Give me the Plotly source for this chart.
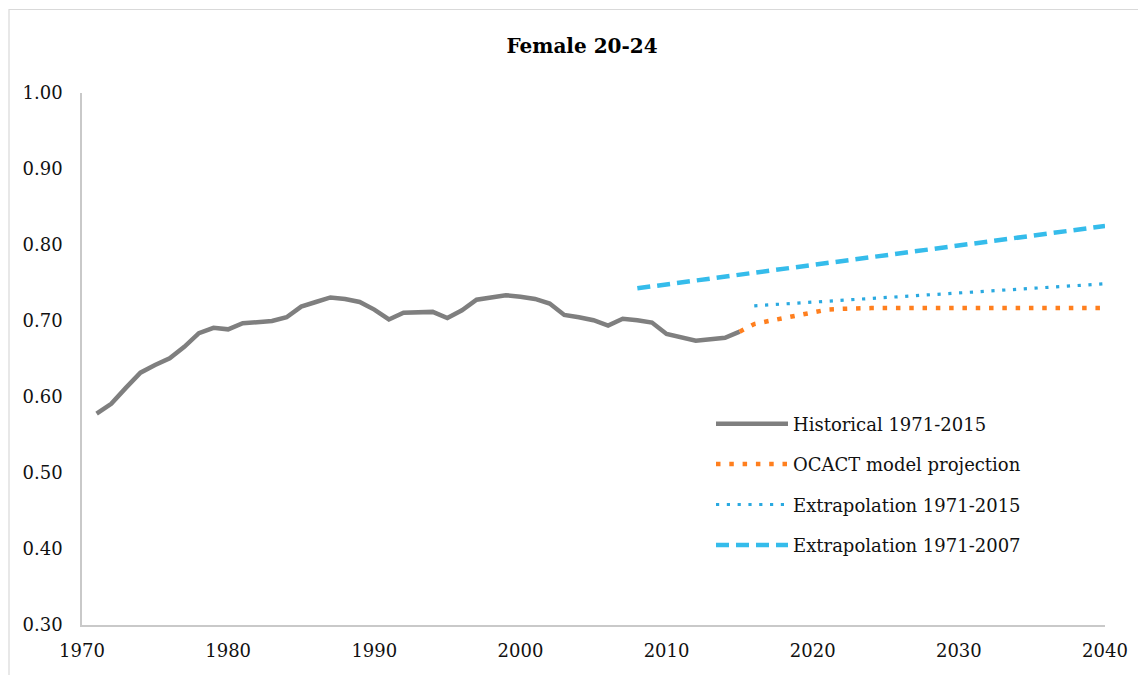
import plotly.graph_objects as go

# ---- Data ----
hist_years = list(range(1971, 2016))
hist_values = [0.578, 0.591, 0.612, 0.632, 0.642, 0.651, 0.666, 0.684, 0.691, 0.689,
               0.697, 0.699, 0.700, 0.705, 0.719, 0.725, 0.731, 0.729, 0.725, 0.715,
               0.702, 0.711, 0.711, 0.712, 0.704, 0.714, 0.728, 0.731, 0.734, 0.732,
               0.729, 0.723, 0.708, 0.705, 0.701, 0.694, 0.703, 0.701, 0.698, 0.683,
               0.678, 0.674, 0.676, 0.678, 0.686]

ocact_years = list(range(2015, 2041))
ocact_values = [0.686, 0.696, 0.700, 0.704, 0.708, 0.712, 0.715, 0.716, 0.717, 0.717,
                0.717, 0.717, 0.717, 0.717, 0.717, 0.717, 0.717, 0.717, 0.717, 0.717,
                0.717, 0.717, 0.717, 0.717, 0.717, 0.717]

ext15_years = [2016, 2020, 2025, 2030, 2035, 2040]
ext15_values = [0.720, 0.725, 0.731, 0.737, 0.743, 0.749]

ext07_years = [2008, 2015, 2020, 2025, 2030, 2035, 2040]
ext07_values = [0.743, 0.761, 0.774, 0.787, 0.799, 0.812, 0.825]

x_ticks = [1970, 1980, 1990, 2000, 2010, 2020, 2030, 2040]
y_ticks = [0.30, 0.40, 0.50, 0.60, 0.70, 0.80, 0.90, 1.00]

FONT = "DejaVu Serif"

fig = go.Figure()
fig.add_trace(go.Scatter(x=hist_years, y=hist_values, mode="lines",
                         name="Historical 1971-2015", legendgroup="a",
                         line=dict(color="#7F7F7F", width=4.5)))
fig.add_trace(go.Scatter(x=ocact_years, y=ocact_values, mode="lines",
                         name="OCACT model projection", legendgroup="b",
                         line=dict(color="#FF7F1E", width=4.5, dash="4.5px,8.8px")))
fig.add_trace(go.Scatter(x=ext15_years, y=ext15_values, mode="lines",
                         name="Extrapolation 1971-2015", legendgroup="c",
                         line=dict(color="#2AA9E0", width=3.2, dash="3.2px,7.6px")))
fig.add_trace(go.Scatter(x=ext07_years, y=ext07_values, mode="lines",
                         name="Extrapolation 1971-2007", legendgroup="d",
                         line=dict(color="#35BCEB", width=4.5, dash="13px,7px")))

OFF = 8  # page body margin
W, H = 1146 - OFF, 675 - OFF
# target page coordinates of the plot area
PL, PR, PT, PB = 82, 1105, 93, 625
L, R, T, B = PL - OFF, (W + OFF) - PR, PT - OFF, (H + OFF) - PB
pw, ph = W - L - R, H - T - B

def px(xp):  # page x -> paper fraction
    return (xp - PL) / pw

def py(yp):  # page y -> paper fraction
    return 1 - (yp - PT) / ph

fig.update_layout(
    width=W, height=H,
    margin=dict(l=L, r=R, t=T, b=B),
    paper_bgcolor="white", plot_bgcolor="white",
    font=dict(family=FONT, size=18, color="#111111"),
    title=dict(text="<b>Female 20-24</b>", x=(582 - OFF) / W, xanchor="center",
               y=1 - (46 - OFF) / H, yanchor="middle",
               font=dict(family=FONT, size=20, color="#000000")),
    showlegend=True,
    legend=dict(x=px(711), y=py(405.5), xanchor="left", yanchor="top",
                bgcolor="rgba(0,0,0,0)", traceorder="grouped", tracegroupgap=14,
                itemwidth=72, font=dict(family=FONT, size=18, color="#111111")),
    xaxis=dict(range=[1970, 2040], tickvals=x_ticks, ticktext=[str(v) for v in x_ticks],
               showgrid=False, zeroline=False, showline=True, linecolor="#C9C9C9",
               linewidth=1.5, ticks="outside", ticklen=9, tickcolor="rgba(0,0,0,0)",
               tickfont=dict(family=FONT, size=18, color="#111111")),
    yaxis=dict(range=[0.30, 1.00], tickvals=y_ticks,
               ticktext=["%.2f" % v for v in y_ticks],
               showgrid=False, zeroline=False, showline=True, linecolor="#C9C9C9",
               linewidth=1.5, ticks="outside", ticklen=14, tickcolor="rgba(0,0,0,0)",
               tickfont=dict(family=FONT, size=18, color="#111111")),
    shapes=[dict(type="rect", xref="paper", yref="paper",
                 x0=px(9), x1=px(1180),
                 y0=py(700), y1=py(9.5),
                 line=dict(color="#D9D9D9", width=1.2), fillcolor="rgba(0,0,0,0)")],
)

fig.write_html("out.html")
